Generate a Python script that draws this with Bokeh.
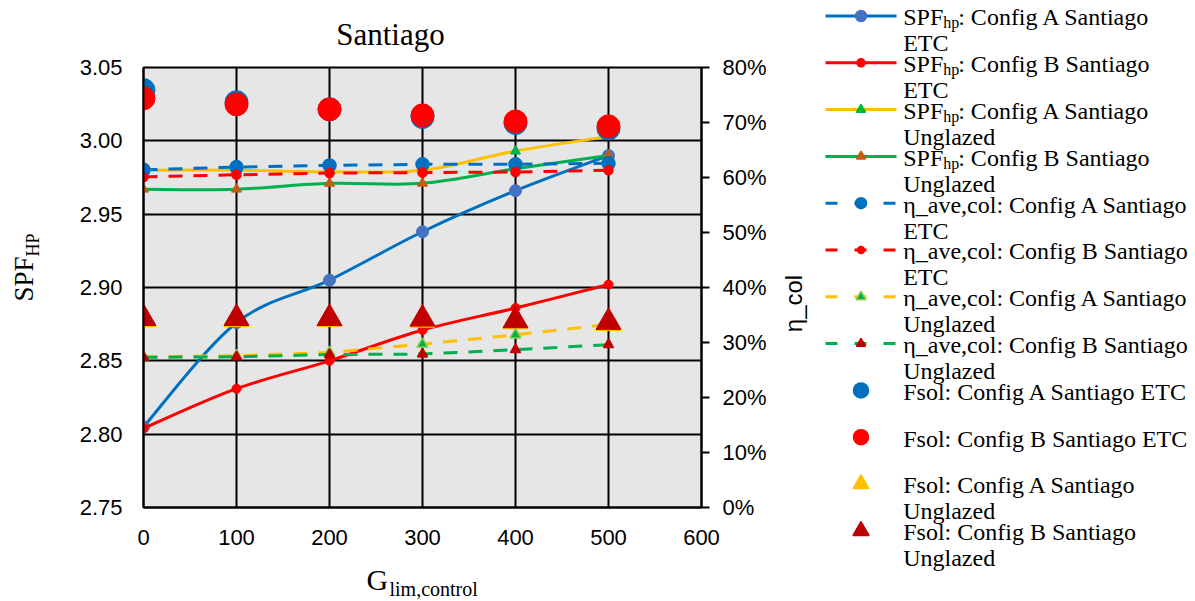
import math
from bokeh.plotting import figure
from bokeh.models import Range1d, LinearAxis, FixedTicker, PrintfTickFormatter
from bokeh.layouts import row, column
from bokeh.embed import file_html
from bokeh.resources import INLINE
from bokeh.core.properties import value

# ---------------- data ----------------
g_lim = [0, 100, 200, 300, 400, 500]

spf_a_etc = [2.805, 2.876, 2.905, 2.938, 2.966, 2.990]
spf_b_etc = [2.804, 2.831, 2.850, 2.871, 2.886, 2.902]
spf_a_ungl = [2.980, 2.980, 2.979, 2.980, 2.993, 3.003]
spf_b_ungl = [2.967, 2.967, 2.971, 2.971, 2.981, 2.990]

eta_a_etc = [61.4, 61.9, 62.2, 62.4, 62.4, 62.6]
eta_b_etc = [60.1, 60.5, 60.8, 60.9, 61.0, 61.3]
eta_a_ungl = [27.4, 27.6, 28.2, 29.7, 31.4, 33.3]
eta_b_ungl = [27.3, 27.4, 27.8, 27.9, 28.7, 29.6]

fsol_a_etc = [75.9, 73.7, 72.4, 71.0, 69.9, 68.9]
fsol_b_etc = [74.4, 73.3, 72.4, 71.3, 70.2, 69.3]
fsol_a_ungl = [34.2, 34.2, 34.2, 34.1, 33.8, 33.5]
fsol_b_ungl = [34.4, 34.4, 34.4, 34.3, 34.0, 33.7]

x_ticks = [0, 100, 200, 300, 400, 500, 600]
spf_ticks = [2.75, 2.80, 2.85, 2.90, 2.95, 3.00, 3.05]
pct_ticks = [0, 10, 20, 30, 40, 50, 60, 70, 80]

title_text = "Santiago"
y_title = ("SPF", "HP")
x_title = ("G", "lim,control")
y2_title = "η_col"
legend_entries = [
    ("SPF", "hp", ": Config A Santiago", "ETC"),
    ("SPF", "hp", ": Config B Santiago", "ETC"),
    ("SPF", "hp", ": Config A Santiago", "Unglazed"),
    ("SPF", "hp", ": Config B Santiago", "Unglazed"),
    ("η_ave,col: Config A Santiago", "", "", "ETC"),
    ("η_ave,col: Config B Santiago", "", "", "ETC"),
    ("η_ave,col: Config A Santiago", "", "", "Unglazed"),
    ("η_ave,col: Config B Santiago", "", "", "Unglazed"),
    ("Fsol: Config A Santiago ETC", "", "", ""),
    ("Fsol: Config B Santiago ETC", "", "", ""),
    ("Fsol: Config A Santiago", "", "", "Unglazed"),
    ("Fsol: Config B Santiago", "", "", "Unglazed"),
]

BLUE = "#0070C0"
BLUE2 = "#4472C4"
RED = "#FF0000"
YEL = "#FFC000"
GRN = "#00B050"
ORG = "#C55A11"
DRED = "#C00000"
LGRN = "#92D050"
DASH = "14 11"
SANS = "Liberation Sans"
SERIF = "Liberation Serif"


def smooth(xs, ys):
    n = len(xs)
    P = list(zip(xs, ys))
    d = dict(x0=[], y0=[], x1=[], y1=[], cx0=[], cy0=[], cx1=[], cy1=[])
    for i in range(n - 1):
        p0 = P[i - 1] if i > 0 else P[i]
        p1, p2 = P[i], P[i + 1]
        p3 = P[i + 2] if i + 2 < n else P[i + 1]
        d["x0"].append(p1[0]); d["y0"].append(p1[1])
        d["x1"].append(p2[0]); d["y1"].append(p2[1])
        d["cx0"].append(p1[0] + (p2[0] - p0[0]) / 6.0)
        d["cy0"].append(p1[1] + (p2[1] - p0[1]) / 6.0)
        d["cx1"].append(p2[0] - (p3[0] - p1[0]) / 6.0)
        d["cy1"].append(p2[1] - (p3[1] - p1[1]) / 6.0)
    return d


def strip(x0, x1, y0, y1):
    """Blank panel whose data units are page pixels (y negated)."""
    f = figure(width=x1 - x0, height=y1 - y0, x_range=Range1d(x0, x1), y_range=Range1d(-y1, -y0),
               toolbar_location=None, output_backend="svg", min_border=0,
               x_axis_location=None, y_axis_location=None, frame_align=False)
    f.grid.visible = False
    f.outline_line_color = None
    f.background_fill_color = "white"
    f.border_fill_color = "white"
    return f


def txt(f, xs, ys, texts, font, size, angle=0.0, align="left", baseline="alphabetic", shift=True):
    px = float(size.replace("px", ""))
    k = 0.3 * px if shift else 0.0
    if angle == 0.0:
        xs2, ys2 = list(xs), [v - k for v in ys]
    else:
        xs2, ys2 = [v - k for v in xs], list(ys)
    f.text(x=xs2, y=[-v for v in ys2], text=texts, angle=angle, text_font=value(font),
           text_font_size=size, text_align=align, text_baseline=baseline, text_color="black")


# ---------------- main chart ----------------
p = figure(width=710, height=505, x_range=Range1d(0, 600), y_range=Range1d(2.75, 3.05),
           toolbar_location=None, output_backend="svg", frame_align=False,
           min_border_left=83, min_border_right=69, min_border_top=15, min_border_bottom=50)
p.extra_y_ranges = {"pct": Range1d(0, 80)}
p.background_fill_color = "#E6E6E6"
p.border_fill_color = "white"
p.outline_line_color = "black"
p.outline_line_width = 2

for ax in (p.xaxis[0], p.yaxis[0]):
    ax.major_tick_out = 0
    ax.major_tick_in = 0
    ax.minor_tick_out = 0
    ax.minor_tick_in = 0
    ax.axis_line_color = "black"
    ax.axis_line_width = 2
    ax.major_label_text_font = SANS
    ax.major_label_text_font_size = "22px"
    ax.major_label_text_color = "black"

p.xaxis[0].ticker = FixedTicker(ticks=x_ticks)
p.xaxis[0].major_label_standoff = 22
p.yaxis[0].ticker = FixedTicker(ticks=spf_ticks)
p.yaxis[0].formatter = PrintfTickFormatter(format="%.2f")
p.yaxis[0].major_label_standoff = 21

rax = LinearAxis(y_range_name="pct", ticker=FixedTicker(ticks=pct_ticks),
                 formatter=PrintfTickFormatter(format="%d%%"))
rax.major_tick_out = 8
rax.major_tick_in = 0
rax.minor_tick_out = 0
rax.minor_tick_in = 0
rax.major_tick_line_width = 2
rax.axis_line_width = 2
rax.axis_line_color = "black"
rax.major_label_text_font = SANS
rax.major_label_text_font_size = "22px"
rax.major_label_text_color = "black"
rax.major_label_standoff = 13
p.add_layout(rax, "right")

p.xgrid.ticker = FixedTicker(ticks=x_ticks)
p.ygrid.ticker = FixedTicker(ticks=spf_ticks)
for g in (p.xgrid[0], p.ygrid[0]):
    g.grid_line_color = "black"
    g.grid_line_width = 2

# SPF (left axis), smoothed solid lines
for ys, lc, mk, mc, ms in [
    (spf_a_etc, BLUE, "circle", BLUE2, 12),
    (spf_b_etc, RED, "circle", RED, 9),
    (spf_a_ungl, YEL, "triangle", GRN, 10),
    (spf_b_ungl, GRN, "triangle", ORG, 10),
]:
    p.bezier(source=smooth(g_lim, ys), x0="x0", y0="y0", x1="x1", y1="y1",
             cx0="cx0", cy0="cy0", cx1="cx1", cy1="cy1",
             line_color=lc, line_width=3, line_cap="round")
    p.scatter(g_lim, ys, marker=mk, size=ms, fill_color=mc, line_color=mc)

# eta (right axis), dashed lines
for ys, lc, mk, mc, mlc, ms in [
    (eta_a_etc, BLUE, "circle", BLUE, BLUE, 13),
    (eta_b_etc, RED, "circle", RED, RED, 9),
    (eta_a_ungl, YEL, "triangle", GRN, LGRN, 11),
    (eta_b_ungl, GRN, "triangle", DRED, DRED, 10),
]:
    p.line(g_lim, ys, y_range_name="pct", line_color=lc, line_width=3, line_dash=DASH)
    p.scatter(g_lim, ys, y_range_name="pct", marker=mk, size=ms,
              fill_color=mc, line_color=mlc, line_width=1.5)

# Fsol (right axis), markers only
for ys, mk, mc, ms in [
    (fsol_a_etc, "circle", BLUE, 23),
    (fsol_b_etc, "circle", RED, 23),
    (fsol_a_ungl, "triangle", YEL, 25),
    (fsol_b_ungl, "triangle", DRED, 25),
]:
    p.scatter(g_lim, ys, y_range_name="pct", marker=mk, size=ms, fill_color=mc, line_color=mc)

# ---------------- text panels around the chart ----------------
title_f = strip(60, 770, 0, 52)
txt(title_f, [390], [43.3], [title_text], SERIF, "31px", align="center")

xlab_f = strip(60, 770, 557, 600)
txt(xlab_f, [366], [588], [x_title[0]], SERIF, "30px")
txt(xlab_f, [389], [594], [x_title[1]], SERIF, "20px")

ylab_f = strip(0, 60, 0, 600)
txt(ylab_f, [32], [301], [y_title[0]], SERIF, "27px", angle=math.pi / 2)
txt(ylab_f, [38], [256], [y_title[1]], SERIF, "18px", angle=math.pi / 2)

y2lab_f = strip(770, 818, 0, 600)
txt(y2lab_f, [793], [303], [y2_title], SANS, "24px", angle=math.pi / 2,
    align="center", baseline="middle", shift=False)

# ---------------- legend panel ----------------
leg = strip(818, 1190, 0, 600)

samples = [
    ("solid", BLUE, "circle", BLUE2, BLUE2, 11),
    ("solid", RED, "circle", RED, RED, 8),
    ("solid", YEL, "triangle", GRN, GRN, 9),
    ("solid", GRN, "triangle", ORG, ORG, 9),
    ("dash", BLUE, "circle", BLUE, BLUE, 11),
    ("dash", RED, "circle", RED, RED, 7),
    ("dash", YEL, "triangle", GRN, LGRN, 10),
    ("dash", GRN, "triangle", DRED, DRED, 9),
    (None, None, "circle", BLUE, BLUE, 15),
    (None, None, "circle", RED, RED, 15),
    (None, None, "triangle", YEL, YEL, 16),
    (None, None, "triangle", DRED, DRED, 16),
]

row_y0, row_step = 15.5, 46.8
tx = 902.7
mx, my, mt = [], [], []
sx, sy, st = [], [], []
for i, ((a, sub, rest, second), (ls, lc, mk, mc, mlc, ms)) in enumerate(zip(legend_entries, samples)):
    yy = row_y0 + row_step * i
    if ls is not None:
        leg.line([825, 896], [-yy, -yy], line_color=lc, line_width=3,
                 line_dash=("solid" if ls == "solid" else "12 17"))
    leg.scatter([860.5], [-yy], marker=mk, size=ms, fill_color=mc, line_color=mlc, line_width=1.5)
    base = yy + 8.5
    mx.append(tx); my.append(base); mt.append(a)
    if sub:
        sx.append(tx + 40); sy.append(base + 3); st.append(sub)
        mx.append(tx + 55); my.append(base); mt.append(rest)
    if second:
        mx.append(tx); my.append(base + 26); mt.append(second)

txt(leg, mx, my, mt, SERIF, "24px")
txt(leg, sx, sy, st, SERIF, "16px")

layout = row(ylab_f, column(title_f, p, xlab_f), y2lab_f, leg)
open("out.html", "w").write(file_html(layout, INLINE))
